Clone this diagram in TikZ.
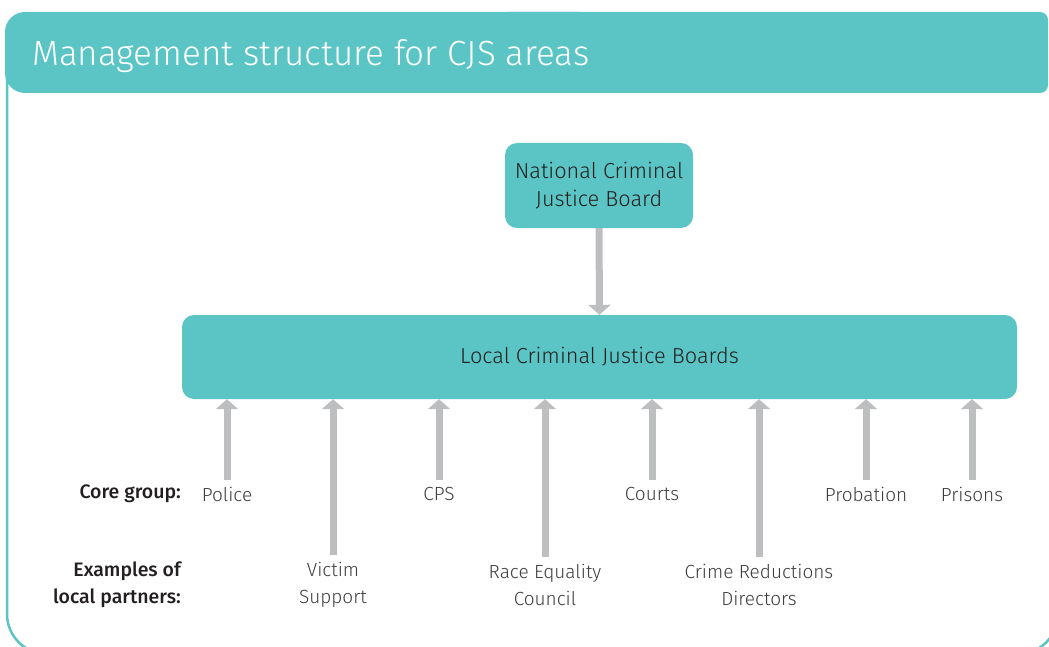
\documentclass[tikz,border=0pt]{standalone}
\usepackage{fontspec}
\setmainfont{Fira Sans}[UprightFont={* Light}, BoldFont={* Medium}]
\usetikzlibrary{arrows.meta}
\definecolor{tealc}{HTML}{5BC4C4}
\definecolor{arrgray}{HTML}{BDBEC0}
\definecolor{txt}{HTML}{231F20}
\definecolor{lbl}{HTML}{3C3C3E}
\tikzset{
  boxs/.style={fill=tealc, rounded corners=12pt, inner sep=0pt, text=txt,
    font=\fontsize{21.7}{28}\selectfont, align=center},
  lab/.style={text=lbl, font=\fontsize{19}{27}\selectfont, align=center, inner sep=0pt},
  side/.style={text=txt, font=\bfseries\fontsize{19.5}{27}\selectfont, align=right, inner sep=0pt, anchor=east},
  arr/.style={draw=arrgray, line width=7pt, -{Triangle[width=22pt,length=10pt]}},
}
\begin{document}
\begin{tikzpicture}[x=1pt,y=-1pt]
\useasboundingbox (0,0) rectangle (1049,647);
% outer frame
\begin{scope}
\clip (0,0) rectangle (1049,647);
\draw[tealc, line width=2.5pt, rounded corners=40pt] (7,70) |- (1058,654) -- (1058,580);
\end{scope}
% title bar
\fill[tealc, rounded corners=20pt] (5,12) rectangle (600,93);
\fill[tealc, rounded corners=8pt] (500,12) rectangle (1048,93);
\node[anchor=base west, text=white, inner sep=0pt, font=\fontsize{35}{40}\selectfont] (title) at (32,66) {Management structure for CJS areas};
% boxes
\node[boxs, minimum width=188pt, minimum height=85pt] (ncjb) at (599,185.5) {National Criminal\\Justice Board};
\node[boxs, minimum width=835pt, minimum height=84pt] (lcjb) at (599.5,357) {Local Criminal Justice Boards};
\draw[arr] (ncjb.south) -- (lcjb.north);
% side labels
\node[side] (core) at (181,494) {Core group:};
\node[side] (partners) at (181,585) {Examples of\\local partners:};
% core group
\node[lab] (police) at (227,494) {Police};
\node[lab] (cps) at (439,494) {CPS};
\node[lab] (courts) at (652,494) {Courts};
\node[lab] (probation) at (866,494) {Probation};
\node[lab] (prisons) at (972,494) {Prisons};
% partners
\node[lab] (victim) at (333,585) {Victim\\Support};
\node[lab] (race) at (545,585) {Race Equality\\Council};
\node[lab] (crime) at (759,585) {Crime Reductions\\Directors};
% arrows
\foreach \n in {police,cps,courts,probation,prisons}
  \draw[arr] ([yshift=7pt]\n.north) -- (\n.north |- lcjb.south);
\foreach \n in {victim,race,crime}
  \draw[arr] ([yshift=7pt]\n.north) -- (\n.north |- lcjb.south);
\end{tikzpicture}
\end{document}
